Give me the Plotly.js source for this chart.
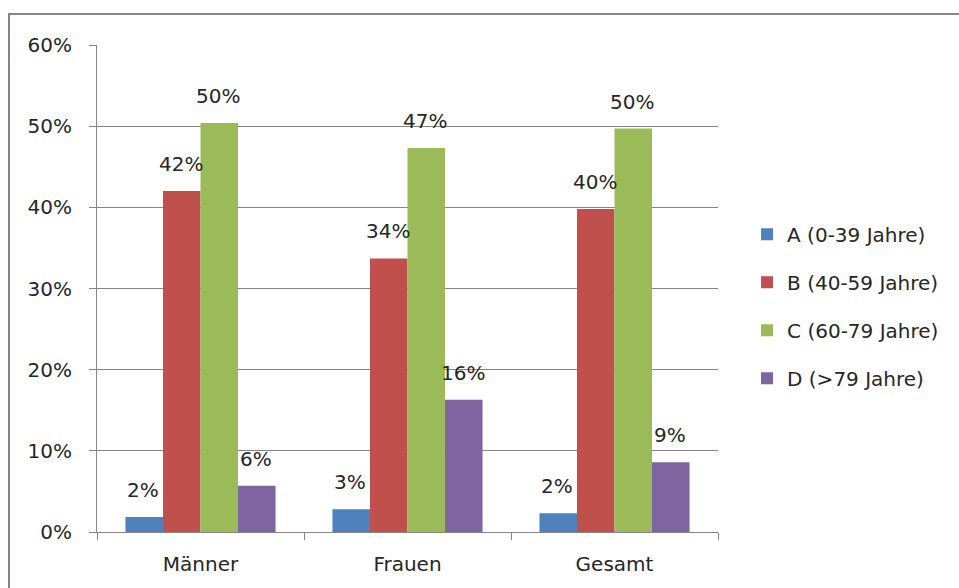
<!DOCTYPE html>
<html>
<head>
<meta charset="utf-8">
<script src="https://cdn.plot.ly/plotly-3.0.1.min.js"></script>
<style>
html,body{margin:0;padding:0;background:#fff;}
#chart{width:959px;height:588px;}
</style>
</head>
<body>
<div id="chart"></div>
<script>
const categories = ["Männer", "Frauen", "Gesamt"];
const seriesNames = ["A (0-39 Jahre)", "B (40-59 Jahre)", "C (60-79 Jahre)", "D (>79 Jahre)"];
const valuesA = [0.0185, 0.028, 0.023];
const valuesB = [0.420, 0.337, 0.398];
const valuesC = [0.504, 0.473, 0.497];
const valuesD = [0.057, 0.163, 0.086];
const yTickVals = [0, 0.1, 0.2, 0.3, 0.4, 0.5, 0.6];

const colors = ["#4F81BD", "#C0504D", "#9BBB59", "#8064A2"];
const allValues = [valuesA, valuesB, valuesC, valuesD];
const fontFam = "'DejaVu Sans', sans-serif";
const textColor = "#262626";

const W = 959, H = 588;
const margin = {l: 97, r: 241, t: 45, b: 56, autoexpand: false};
const bargap = 0.275;

const traces = allValues.map((vals, i) => ({
  type: "bar",
  name: seriesNames[i],
  x: categories,
  y: vals,
  marker: {color: colors[i], line: {width: 0}},
  hoverinfo: "none",
  legendgroup: "g" + i
}));

// data labels placed over each bar through the axes
const plotW = W - margin.l - margin.r;
const barW = plotW / categories.length * (1 - bargap) / allValues.length;
const annotations = [];
allValues.forEach((vals, i) => {
  vals.forEach((v, j) => {
    annotations.push({
      xref: "x", yref: "y",
      x: categories[j], y: v,
      text: Math.round(v * 100) + "%",
      showarrow: false,
      xanchor: "center", yanchor: "bottom",
      xshift: (i - (allValues.length - 1) / 2) * barW - 1,
      yshift: 13,
      font: {family: fontFam, size: 20, color: textColor}
    });
  });
});

const layout = {
  width: W,
  height: H,
  margin: margin,
  paper_bgcolor: "#ffffff",
  plot_bgcolor: "#ffffff",
  barmode: "group",
  bargap: bargap,
  bargroupgap: 0,
  font: {family: fontFam, size: 20, color: textColor},
  showlegend: true,
  legend: {
    xref: "container", yref: "container",
    x: 0.779, xanchor: "left",
    y: 0.479, yanchor: "middle",
    font: {family: fontFam, size: 20, color: textColor},
    traceorder: "grouped",
    tracegroupgap: 19,
    itemwidth: 30
  },
  xaxis: {
    type: "category",
    showline: true,
    linecolor: "#868686",
    linewidth: 1,
    ticks: "outside",
    tickson: "boundaries",
    ticklen: 7,
    tickcolor: "#868686",
    showgrid: false,
    ticklabelstandoff: 14,
    tickfont: {family: fontFam, size: 20, color: textColor}
  },
  yaxis: {
    range: [0, 0.6],
    tickvals: yTickVals,
    tickformat: ".0%",
    showline: true,
    linecolor: "#868686",
    linewidth: 1,
    ticks: "outside",
    ticklen: 7,
    tickcolor: "#868686",
    showgrid: true,
    gridcolor: "#868686",
    gridwidth: 1,
    zeroline: false,
    ticklabelstandoff: 13,
    tickfont: {family: fontFam, size: 20, color: textColor}
  },
  annotations: annotations,
  shapes: [{
    type: "rect",
    xref: "paper", yref: "paper",
    x0: -0.1417, x1: 1.6,
    y0: -0.3, y1: 1.0637,
    line: {color: "#868686", width: 2},
    fillcolor: "rgba(0,0,0,0)",
    layer: "below"
  }]
};

Plotly.newPlot("chart", traces, layout, {displayModeBar: false, staticPlot: true});
</script>
</body>
</html>
